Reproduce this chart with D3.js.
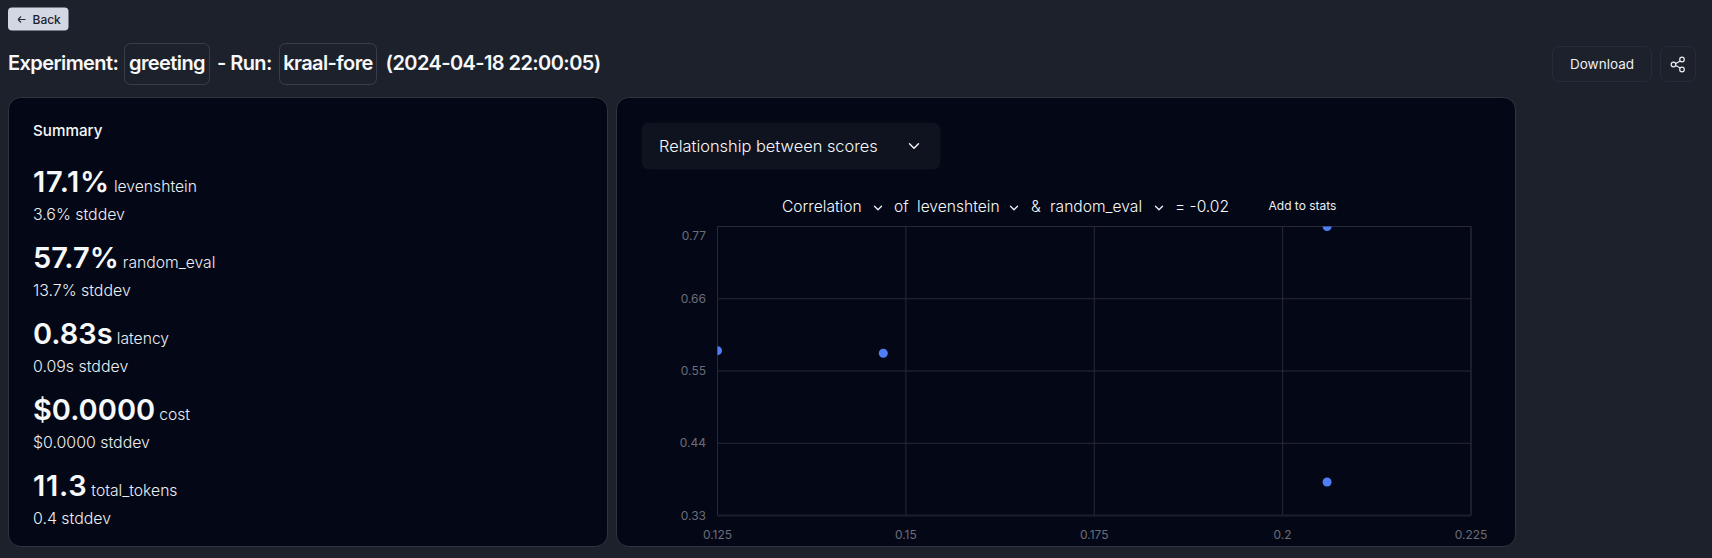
<!DOCTYPE html>
<html>
<head>
<meta charset="utf-8">
<script src="https://cdn.jsdelivr.net/npm/d3@7"></script>
<style>
  html, body { margin: 0; padding: 0; background: #1d212c; width: 1712px; height: 558px; overflow: hidden; }
  svg { display: block; font-family: Inter, Roboto, sans-serif; }
  .tight { letter-spacing: -0.58px; }
</style>
</head>
<body>
<svg id="page" width="1712" height="558"></svg>
<script>
// summary card
var scoreValues = ["17.1%", "57.7%", "0.83s", "$0.0000", "11.3"];
var scoreNames = ["levenshtein", "random_eval", "latency", "cost", "total_tokens"];
var scoreDevs = ["3.6% stddev", "13.7% stddev", "0.09s stddev", "$0.0000 stddev", "0.4 stddev"];

// scatter points
var levenshtein = [0.125, 0.147, 0.2059, 0.2059];
var randomEval = [0.581, 0.577, 0.77, 0.381];

var xTicks = [0.125, 0.15, 0.175, 0.2, 0.225];
var yTicks = [0.33, 0.44, 0.55, 0.66, 0.77];

var svg = d3.select("#page");

var white = "#f7f8fa";
var soft = "#eceef1";

function box(x, y, w, h, r, fill, stroke) {
  return svg.append("rect").attr("x", x + 0.5).attr("y", y + 0.5)
    .attr("width", w - 1).attr("height", h - 1).attr("rx", r)
    .attr("fill", fill).attr("stroke", stroke || "none");
}

function label(x, y, txt, size, weight, color, anchor) {
  return svg.append("text").attr("x", x).attr("y", y).text(txt)
    .attr("font-size", size).attr("font-weight", weight || 400)
    .attr("fill", color || white).attr("text-anchor", anchor || "start");
}

function chevron(x, y, size, color) {
  svg.append("path")
    .attr("d", `M${x - size},${y - size / 2}L${x},${y + size / 2}L${x + size},${y - size / 2}`)
    .attr("fill", "none").attr("stroke", color || soft).attr("stroke-width", 1.4)
    .attr("stroke-linecap", "round").attr("stroke-linejoin", "round");
}

// Back button
box(7.5, 7, 61.5, 24, 4, "#d3d7e3");
svg.append("path").attr("d", "M18,19.5H25.5M18,19.5l3,-3M18,19.5l3,3")
  .attr("fill", "none").attr("stroke", "#2a2f3c").attr("stroke-width", 1.1);
label(32.5, 23.5, "Back", 12, 500, "#1d212c");

// Title row
label(8, 70, "Experiment:", 20, 600).attr("class", "tight");
box(124, 43, 86, 42, 6, "none", "#3a3e4b");
label(167, 70, "greeting", 20, 600, white, "middle").attr("class", "tight");
label(217, 70, "- Run:", 20, 600).attr("class", "tight");
box(279, 43, 98, 42, 6, "none", "#3a3e4b");
label(328, 70, "kraal-fore", 20, 600, white, "middle").attr("class", "tight");
label(385.5, 70, "(2024-04-18 22:00:05)", 20, 600).attr("class", "tight");

// Download + share buttons
box(1552, 46, 100, 36, 6, "none", "#262a3a");
label(1602, 69, "Download", 13.5, 400, soft, "middle");
box(1660, 46, 36, 36, 6, "none", "#262a3a");
svg.append("path").attr("d", "M1682,60L1674,64.5M1674,64.5L1682,69")
  .attr("fill", "none").attr("stroke", soft).attr("stroke-width", 1.2);
[[1682, 59.5], [1673.5, 64.5], [1682, 69.5]].forEach(function(c) {
  svg.append("circle").attr("cx", c[0]).attr("cy", c[1]).attr("r", 2.3)
    .attr("fill", "#1d212c").attr("stroke", soft).attr("stroke-width", 1.2);
});

// Cards
box(8, 97, 600, 450, 12, "#040816", "#30343f");
box(616, 97, 900, 450, 12, "#040816", "#30343f");

// Summary
label(33, 136, "Summary", 15.2, 500);

var rowY = d3.scaleLinear().domain([0, 4]).range([191.5, 495.5]);
scoreValues.forEach(function(v, i) {
  var y = rowY(i);
  var big = label(33, y, v, 29, 600);
  // the 1s are a little wider in the original
  if (v.includes("1")) big.style("letter-spacing", "0.7px");
  var w = big.node().getComputedTextLength();
  label(33 + w + 4, y, scoreNames[i], 15.7, 300, soft);
  label(33, y + 28, scoreDevs[i], 15.9, 300, soft);
});

// Dropdown
box(641, 122, 300, 48, 8, "#0f131f");
label(659, 152, "Relationship between scores", 16.4, 350);
chevron(914, 146, 4.5, white);

// Correlation row
label(782, 212, "Correlation", 15.6, 300);
chevron(878, 208, 3.5);
label(894, 212, "of", 15.6, 300);
label(917, 212, "levenshtein", 15.6, 300);
chevron(1014, 208, 3.5);
label(1031, 212, "&", 15.6, 300);
label(1050, 212, "random_eval", 15.6, 300);
chevron(1159, 208, 3.5);
label(1175, 212, "= -0.02", 15.6, 300);
label(1268.5, 210, "Add to stats", 12, 400, soft);

// Scatter plot
var x = d3.scaleLinear().domain([0.125, 0.225]).range([717.5, 1471]);
var y = d3.scaleLinear().domain([0.33, 0.77]).range([515.5, 226.5]);
var grid = "#272a36";
var frame = "#1c1f2b";

svg.append("g").selectAll("line").data(xTicks).join("line")
  .attr("x1", d => x(d)).attr("x2", d => x(d))
  .attr("y1", y(0.33)).attr("y2", y(0.77))
  .attr("stroke", d => d === 0.225 ? frame : grid)
  .attr("stroke-width", d => d === 0.225 ? 2 : 1);
svg.append("g").selectAll("line").data(yTicks).join("line")
  .attr("x1", x(0.125)).attr("x2", x(0.225))
  .attr("y1", d => y(d)).attr("y2", d => y(d))
  .attr("stroke", d => d === 0.33 ? frame : grid)
  .attr("stroke-width", d => d === 0.33 ? 2 : 1);

svg.append("g").selectAll("text").data(xTicks).join("text")
  .attr("x", d => x(d)).attr("y", 539).attr("text-anchor", "middle")
  .attr("font-size", 12).attr("fill", "#6a6d78").text(d => d);
// top label sits a bit lower in the original so it stays inside the axis
svg.append("g").selectAll("text").data(yTicks).join("text")
  .attr("x", 706).attr("y", d => y(d) + (d === 0.77 ? 13 : 4)).attr("text-anchor", "end")
  .attr("font-size", 12).attr("fill", "#6a6d78").text(d => d);

svg.append("clipPath").attr("id", "plot-clip").append("rect")
  .attr("x", x(0.125)).attr("y", y(0.77))
  .attr("width", x(0.225) - x(0.125)).attr("height", y(0.33) - y(0.77));

svg.append("g").attr("clip-path", "url(#plot-clip)")
  .selectAll("circle").data(levenshtein).join("circle")
  .attr("cx", d => x(d)).attr("cy", (d, i) => y(randomEval[i]))
  .attr("r", 4.5).attr("fill", "#4f7ff5");
</script>
</body>
</html>
